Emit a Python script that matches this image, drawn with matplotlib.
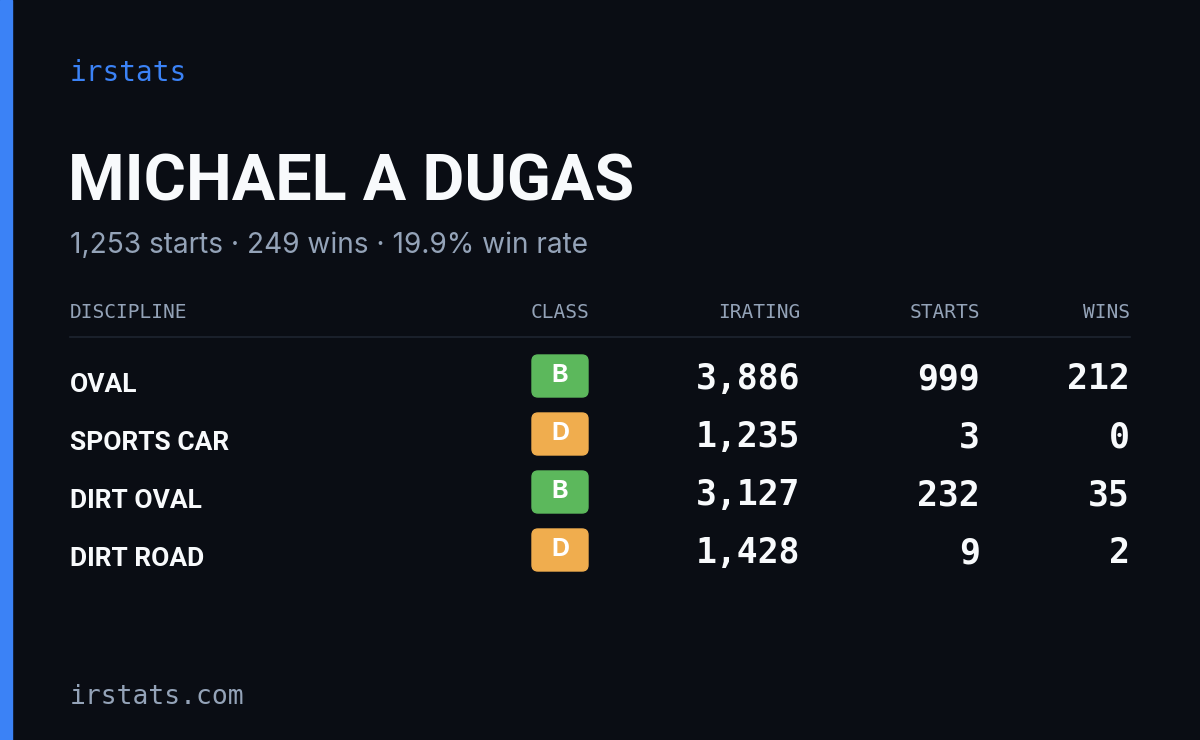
import matplotlib
matplotlib.use("Agg")
import matplotlib.pyplot as plt
from matplotlib.patches import FancyBboxPatch, Rectangle

brand = "irstats"
site = "irstats.com"
name = "MICHAEL A DUGAS"
subtitle = "1,253 starts · 249 wins · 19.9% win rate"
headers = ["DISCIPLINE", "CLASS", "IRATING", "STARTS", "WINS"]
disciplines = ["OVAL", "SPORTS CAR", "DIRT OVAL", "DIRT ROAD"]
classes = ["B", "D", "B", "D"]
iratings = [3886, 1235, 3127, 1428]
starts = [999, 3, 232, 9]
wins = [212, 0, 35, 2]
class_colors = {"B": "#5cb85c", "D": "#f0ad4e"}

BG = "#0a0d14"
fig = plt.figure(figsize=(12, 7.4), dpi=100, facecolor=BG)
ax = fig.add_axes([0, 0, 1, 1])
ax.set_xlim(0, 1200); ax.set_ylim(740, 0); ax.axis("off")
ax.add_patch(Rectangle((0, 0), 12, 740, color="#3b82f6"))

cond = ["Roboto", "DejaVu Sans"]
mono = ["DejaVu Sans Mono"]
ax.text(70, 73, brand, color="#3b82f6", fontsize=20, family=mono, va="center")
ax.text(68, 183, name, color="#f8fafc", fontsize=46.5, family=cond, weight="bold", va="center")
ax.text(70, 245, subtitle, color="#94a3b8", fontsize=20.2, family=["Inter", "DejaVu Sans"], va="center")

hx = [70, 560, 800, 980, 1130]
ha = ["left", "center", "right", "right", "right"]
for x, h, a in zip(hx, headers, ha):
    ax.text(x, 313, h, color="#94a3b8", fontsize=14, family=mono, ha=a, va="center")
ax.plot([70, 1130], [337, 337], color="#1e2430", lw=1.2)

for i, (d, c, r, s, w) in enumerate(zip(disciplines, classes, iratings, starts, wins)):
    y = 379 + i * 58
    ax.text(70, y + 6, d, color="#f8fafc", fontsize=19, family=cond, weight="bold", va="center")
    ax.add_patch(FancyBboxPatch((532, y - 24), 56, 42, boxstyle="round,pad=0,rounding_size=6",
                                color=class_colors[c]))
    ax.text(560, y - 3, c, color="white", fontsize=18, weight="bold", ha="center", va="center",
            family=["Inter", "DejaVu Sans"])
    for x, v in zip(hx[2:], [r, s, w]):
        ax.text(x, y, f"{v:,}", color="#f8fafc", fontsize=25, family=mono, weight="bold",
                ha="right", va="center")

ax.text(70, 697, site, color="#94a3b8", fontsize=19, family=mono, va="center")
fig.savefig("out.png", dpi=100, facecolor=BG)
